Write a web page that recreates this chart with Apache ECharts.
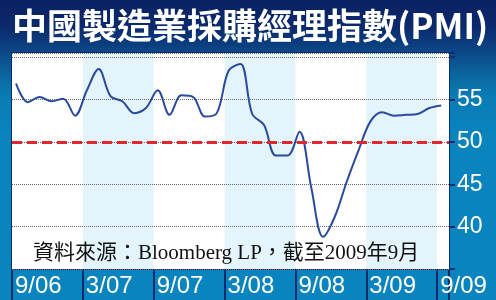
<!DOCTYPE html>
<html><head><meta charset="utf-8">
<script src="https://cdn.jsdelivr.net/npm/echarts@6/dist/echarts.min.js"></script>
<style>html,body{margin:0;padding:0;}#c{width:496px;height:300px;}</style>
</head><body><div id="c"></div>
<script>
const title = '中國製造業採購經理指數(PMI)';
const source = '資料來源：Bloomberg LP，截至2009年9月';
// months Sep 2006 .. Sep 2009
const months = ['2006-09','2006-10','2006-11','2006-12','2007-01','2007-02','2007-03','2007-04','2007-05','2007-06','2007-07','2007-08','2007-09','2007-10','2007-11','2007-12','2008-01','2008-02','2008-03','2008-04','2008-05','2008-06','2008-07','2008-08','2008-09','2008-10','2008-11','2008-12','2009-01','2009-02','2009-03','2009-04','2009-05','2009-06','2009-07','2009-08','2009-09'];
const pmi = [56.9,54.7,55.3,54.8,55.1,53.1,56.1,58.6,55.4,54.8,53.4,54.0,56.1,53.2,55.5,55.3,53.0,53.4,58.4,59.2,53.3,52.0,48.4,48.4,51.2,44.6,38.8,41.2,45.3,49.0,52.4,53.5,53.1,53.2,53.3,54.0,54.3];
const xTickLabels = ['9/06','3/07','9/07','3/08','9/08','3/09','9/09'];
const yTickValues = [40,45,50,55];
const refLevel = 50;

const monthsPerTick = 6;
const monthOffset = 0.34; // points sit slightly after the period boundary
const lineData = pmi.map((v,i)=>[i+monthOffset, v]);

const chart = echarts.init(document.getElementById('c'));
chart.setOption({
  animation:false,
  backgroundColor:{type:'linear',x:0,y:0,x2:0,y2:1,colorStops:[
    {offset:0,color:'#0a2163'},{offset:0.09,color:'#0b2a6c'},{offset:0.17,color:'#0b4686'},
    {offset:0.25,color:'#0b669f'},{offset:0.32,color:'#0a7bb5'},{offset:0.45,color:'#0984bd'},{offset:1,color:'#0984be'}]},
  title:{text:title,left:7,top:3,textStyle:{color:'#ffffff',fontSize:35,fontWeight:'bold',fontFamily:'Noto Sans CJK TC'}},
  grid:{left:12,top:53,width:437,height:216,show:true,backgroundColor:'#ffffff',borderColor:'#0c2a6e',borderWidth:2,containLabel:false},
  xAxis:{type:'value',min:0,max:37,interval:monthsPerTick,z:1,
    axisLine:{show:false,onZero:false},
    axisTick:{show:true,inside:false,length:31,lineStyle:{color:'#0c2a6e',width:2}},
    axisLabel:{show:true,align:'left',margin:5,color:'#ffffff',fontSize:24,fontFamily:'Liberation Sans',padding:[0,0,0,3],
      formatter:(v)=>{const k=v/monthsPerTick; return Number.isInteger(k)&&xTickLabels[k]?xTickLabels[k]:'';}},
    splitLine:{show:false},
    splitArea:{show:true,areaStyle:{color:['#ffffff','#e3f4fd']}}
  },
  yAxis:{type:'value',position:'right',min:35,max:60.5,interval:5,z:3,
    axisLine:{show:false,onZero:false},
    axisTick:{show:true,inside:false,length:6,lineStyle:{color:'#0c2a6e',width:2}},
    axisLabel:{show:true,customValues:yTickValues,margin:8,color:'#ffffff',fontSize:23,fontFamily:'Liberation Sans'},
    splitLine:{show:true,lineStyle:{color:'#6a6a6a',width:1,type:'dotted'}}
  },
  graphic:[{type:'text',left:33,top:243,z:10,style:{text:source,fill:'#111111',fontSize:21,fontFamily:'Liberation Serif, Noto Sans CJK TC'}}],
  series:[
    {type:'line',data:[],z:3,silent:true,
     markLine:{symbol:'none',silent:true,label:{show:false},lineStyle:{color:'#e3262b',width:3,type:[10,5]},data:[{yAxis:refLevel}]}},
    {type:'line',data:lineData,z:4,smooth:0.35,showSymbol:false,lineStyle:{color:'#2a4a9e',width:2}}
  ]
});
</script></body></html>
